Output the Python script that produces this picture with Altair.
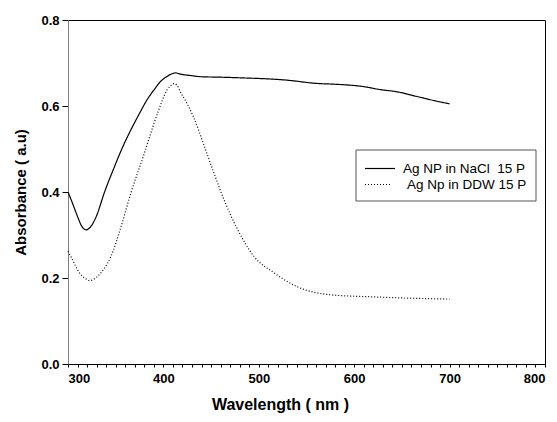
import altair as alt
import pandas as pd

# Ag NP in NaCl 15 P (solid)
nacl_wl = [300, 304, 310, 314, 319, 324, 330, 338, 348, 357, 366, 375, 383, 390, 397, 404, 409, 413,
           418, 428, 440, 460, 488, 510, 530, 558, 585, 607, 628, 645, 666, 687, 700]
nacl_abs = [0.400, 0.378, 0.343, 0.322, 0.312, 0.320, 0.345, 0.398, 0.455, 0.503, 0.545, 0.583,
            0.615, 0.637, 0.657, 0.669, 0.675, 0.677, 0.674, 0.671, 0.668, 0.667, 0.665, 0.663,
            0.660, 0.653, 0.650, 0.646, 0.638, 0.633, 0.622, 0.611, 0.605]

# Ag Np in DDW 15 P (dotted)
ddw_wl = [300, 303, 312, 318, 323, 330, 338, 345, 355, 366, 380, 394, 404, 408, 411, 414, 418, 425,
          432, 443, 453, 465, 478, 495, 516, 540, 575, 621, 660, 700]
ddw_abs = [0.262, 0.250, 0.212, 0.199, 0.194, 0.202, 0.222, 0.250, 0.315, 0.398, 0.490, 0.584,
           0.638, 0.648, 0.652, 0.649, 0.632, 0.605, 0.572, 0.506, 0.444, 0.374, 0.312, 0.250,
           0.212, 0.180, 0.161, 0.156, 0.153, 0.151]

series_names = ["Ag NP in NaCl \u00a015 P", "Ag Np in DDW 15 P"]

df = pd.concat([
    pd.DataFrame({"wl": nacl_wl, "abs": nacl_abs, "series": series_names[0]}),
    pd.DataFrame({"wl": ddw_wl, "abs": ddw_abs, "series": series_names[1]}),
])

x_ticks = list(range(300, 801, 10))
y_ticks = [0.0, 0.2, 0.4, 0.6, 0.8]

font = "Liberation Sans"

lines = alt.Chart(df).mark_line(color="black", strokeWidth=1.2, interpolate="monotone").encode(
    x=alt.X("wl:Q", title="Wavelength ( nm )",
            scale=alt.Scale(domain=[300, 800], nice=False, zero=False),
            axis=alt.Axis(values=x_ticks,
                          labelExpr="datum.value % 100 == 0 ? datum.label : ''",
                          labelOverlap=False,
                          grid=False, tickSize=3, tickColor="black", domainColor="black",
                          labelFont=font, labelFontWeight="bold", labelFontSize=13,
                          labelColor="black", labelPadding=5,
                          titleFont=font, titleFontWeight="bold", titleFontSize=16,
                          titleColor="black", titlePadding=11,
                          titleX=212, titleAlign="center")),
    y=alt.Y("abs:Q", title="Absorbance ( a.u)",
            scale=alt.Scale(domain=[0, 0.8], nice=False),
            axis=alt.Axis(values=y_ticks, format=".1f", grid=False, tickSize=6,
                          tickColor="black", domainColor="#808080",
                          labelFont=font, labelFontWeight="bold", labelFontSize=13,
                          labelColor="black", labelPadding=3,
                          titleFont=font, titleFontWeight="bold", titleFontSize=15,
                          titleColor="black", titlePadding=12)),
    strokeDash=alt.StrokeDash("series:N", legend=None,
                              scale=alt.Scale(domain=series_names, range=[[1, 0], [1, 2]])),
    order="wl:Q",
)

# Legend drawn as a boxed key inside the plot area
legend_df = pd.DataFrame({"series": series_names})
base = alt.Chart(legend_df)

box = base.transform_filter(alt.datum.series == series_names[0]).mark_rect(
    fill="white", stroke="#555555", strokeWidth=1
).encode(x=alt.value(288), x2=alt.value(468), y=alt.value(130), y2=alt.value(181))

key1 = base.transform_filter(alt.datum.series == series_names[0]).mark_rule(
    color="black", strokeWidth=1.2
).encode(x=alt.value(297), x2=alt.value(327), y=alt.value(148.5))
key2 = base.transform_filter(alt.datum.series == series_names[1]).mark_rule(
    color="black", strokeWidth=1, strokeDash=[1, 2]
).encode(x=alt.value(297), x2=alt.value(322), y=alt.value(164.5))

txt1 = base.transform_filter(alt.datum.series == series_names[0]).mark_text(
    align="left", baseline="middle", font=font, fontSize=13.5, color="black"
).encode(x=alt.value(335), y=alt.value(149), text="series:N")
txt2 = base.transform_filter(alt.datum.series == series_names[1]).mark_text(
    align="left", baseline="middle", font=font, fontSize=13.5, color="black"
).encode(x=alt.value(339), y=alt.value(165), text="series:N")

chart = alt.layer(lines, box, key1, key2, txt1, txt2).properties(
    width=477, height=344,
    autosize=alt.AutoSizeParams(type="none"),
    padding={"left": 60, "top": 12, "right": 4, "bottom": 50},
).configure_view(stroke="black", strokeWidth=1)

chart.save("out.html", embed_options={"renderer": "svg", "actions": False})
